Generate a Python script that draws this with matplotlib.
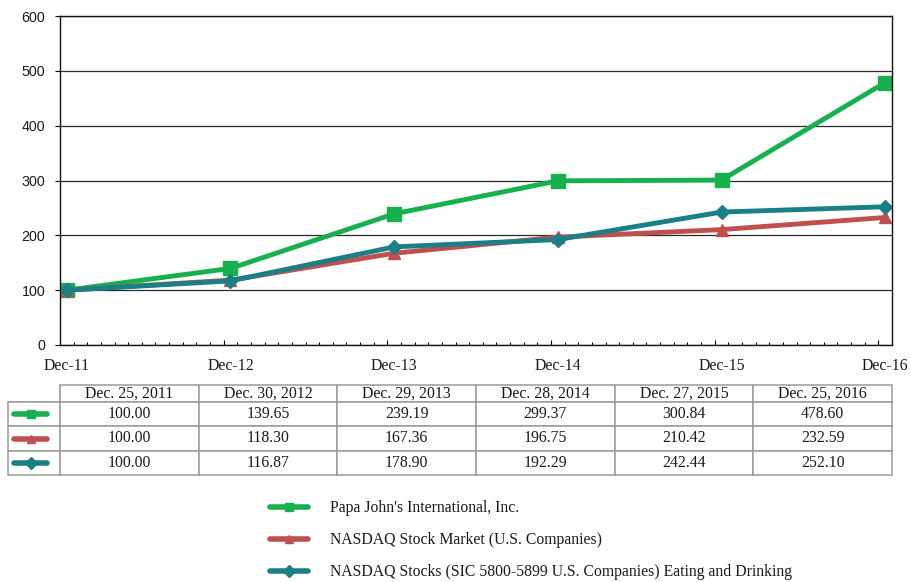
import matplotlib
matplotlib.use("Agg")
import matplotlib.pyplot as plt
from matplotlib.lines import Line2D
from matplotlib.ticker import FixedLocator, NullFormatter

# ---------------- data ----------------
axis_labels = ["Dec-11", "Dec-12", "Dec-13", "Dec-14", "Dec-15", "Dec-16"]
table_dates = ["Dec. 25, 2011", "Dec. 30, 2012", "Dec. 29, 2013",
               "Dec. 28, 2014", "Dec. 27, 2015", "Dec. 25, 2016"]
series_names = ["Papa John's International, Inc.",
                "NASDAQ Stock Market (U.S. Companies)",
                "NASDAQ Stocks (SIC 5800-5899 U.S. Companies) Eating and Drinking"]
papa_johns = [100.00, 139.65, 239.19, 299.37, 300.84, 478.60]
nasdaq_market = [100.00, 118.30, 167.36, 196.75, 210.42, 232.59]
nasdaq_eating = [100.00, 116.87, 178.90, 192.29, 242.44, 252.10]
y_ticks = [0, 100, 200, 300, 400, 500, 600]

series = [papa_johns, nasdaq_market, nasdaq_eating]
colors = ["#17B04E", "#C0504D", "#1A7F86"]
markers = ["s", "^", "D"]
msizes = [10, 9, 7.5]

SERIF = "Liberation Serif"
SANS = "Liberation Sans"
FS = 11.3
TXT = "#1a1a1a"

W, H = 912, 582
fig = plt.figure(figsize=(W / 100, H / 100), dpi=100)

# ---------------- main chart ----------------
ax_l, ax_r, ax_t, ax_b = 60, 892, 16, 345
ax = fig.add_axes([ax_l / W, 1 - ax_b / H, (ax_r - ax_l) / W, (ax_b - ax_t) / H])

months_per_period = 12
x = [i * months_per_period + 0.5 for i in range(len(axis_labels))]
n_months = months_per_period * (len(axis_labels) - 1) + 1

for vals, c, m, ms in zip(series, colors, markers, msizes):
    ax.plot(x, vals, color=c, lw=3.5, marker=m, markersize=ms,
            markerfacecolor=c, markeredgecolor=c, solid_joinstyle="round")

ax.set_xlim(0, n_months)
ax.set_ylim(0, 600)
ax.set_yticks(y_ticks)
ax.yaxis.grid(True, color="#2a2a2a", lw=0.9)
ax.set_axisbelow(True)
for s in ax.spines.values():
    s.set_color("#111111")
    s.set_linewidth(1.0)

ax.tick_params(axis="y", direction="out", length=3.5, width=0.8, pad=7,
               labelsize=10.3, labelcolor=TXT)
for lab in ax.get_yticklabels():
    lab.set_fontfamily(SANS)

ax.set_xticks(x)
ax.set_xticklabels(axis_labels, fontfamily=SERIF, fontsize=FS, color=TXT)
ax.tick_params(axis="x", which="major", length=0, pad=9)
minor = [mth for mth in range(1, n_months) if mth % months_per_period != 0]
ax.xaxis.set_minor_locator(FixedLocator(minor))
ax.xaxis.set_minor_formatter(NullFormatter())
ax.tick_params(axis="x", which="minor", direction="in", length=2.2, width=0.8)

sec = ax.secondary_xaxis("bottom")
sec.set_xticks(list(range(months_per_period, n_months, months_per_period)))
sec.set_xticklabels([])
sec.tick_params(direction="in", length=3.6, width=0.8)
sec.spines["bottom"].set_visible(False)

# ---------------- table ----------------
t_l, t_r, t_t, t_b = 8, 892, 385, 475
tax = fig.add_axes([t_l / W, 1 - t_b / H, (t_r - t_l) / W, (t_b - t_t) / H])
tax.axis("off")

first_w = 52
col_w = (t_r - t_l - first_w) / len(table_dates)
col_widths = [first_w / (t_r - t_l)] + [col_w / (t_r - t_l)] * len(table_dates)
cell_text = [[""] + table_dates] + [[""] + [f"{v:.2f}" for v in s] for s in series]
tbl = tax.table(cellText=cell_text, colWidths=col_widths, cellLoc="center",
                bbox=[0, 0, 1, 1])
tbl.auto_set_font_size(False)
header_h = 17 / (t_b - t_t)
row_h = (1 - header_h) / len(series)
for (r, c), cell in tbl.get_celld().items():
    cell.set_edgecolor("#9a9a9a")
    cell.set_linewidth(1.1)
    cell.get_text().set_fontfamily(SERIF)
    cell.get_text().set_fontsize(FS)
    cell.get_text().set_color(TXT)
    cell.set_height(header_h if r == 0 else row_h)
    if r == 0 and c == 0:
        cell.visible_edges = "BR"

# legend keys in first column
tax.set_xlim(0, t_r - t_l)
tax.set_ylim(t_b - t_t, 0)
for i, (c, m) in enumerate(zip(colors, markers)):
    yc = 17 + row_h * (t_b - t_t) * (i + 0.5)
    tax.add_line(Line2D([6, 39], [yc, yc], color=c, lw=4, solid_capstyle="round",
                        clip_on=False, zorder=5))
    tax.add_line(Line2D([22.5], [yc], color=c, marker=m, markersize=6,
                        markeredgecolor=c, clip_on=False, zorder=5))

# ---------------- bottom legend ----------------
handles = [Line2D([], [], color=c, lw=4, marker=m, markersize=6,
                  solid_capstyle="round", markeredgecolor=c)
           for c, m in zip(colors, markers)]
leg = fig.legend(handles, series_names, loc="upper left",
                 bbox_to_anchor=(270 / W, 1 - 500 / H), frameon=False,
                 prop={"family": SERIF, "size": FS},
                 handlelength=2.45, handletextpad=1.35, labelspacing=1.03,
                 borderpad=0, borderaxespad=0)
for t in leg.get_texts():
    t.set_color(TXT)

fig.savefig("out.png", dpi=100)
